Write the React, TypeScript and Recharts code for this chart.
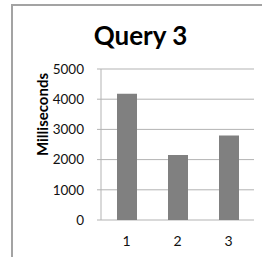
import { BarChart, Bar, XAxis, YAxis, CartesianGrid, Label } from "recharts";

const queries = [1, 2, 3];
const milliseconds = [4180, 2150, 2800];
const yTicks = [0, 1000, 2000, 3000, 4000, 5000];
const xBoundaries = [0.5, 1.5, 2.5, 3.5];

const data = queries.map((q, i) => ({ q, ms: milliseconds[i] }));

const FONT = "Lato, 'Open Sans', sans-serif";
const GRID = "#b3b3b3";

const YLabel = ({ viewBox }: any) => {
  const x = viewBox.x + 42;
  const y = viewBox.y + viewBox.height / 2 - 30;
  return (
    <text
      x={x}
      y={y}
      transform={`rotate(-90, ${x}, ${y})`}
      textAnchor="middle"
      dominantBaseline="central"
      fontFamily={FONT}
      fontWeight="bold"
      fontSize={15}
      fill="#000"
    >
      Milliseconds
    </text>
  );
};

const App = () => {
  return (
    <div
      style={{
        position: "absolute",
        left: 0,
        top: 0,
        width: 262,
        height: 257,
        overflow: "hidden",
        background: "#fff",
      }}
    >
      <div
        style={{
          position: "absolute",
          left: 11,
          top: 4,
          width: 260,
          height: 251,
          borderLeft: "2px solid #a3a3a3",
          borderTop: "2px solid #a3a3a3",
          borderBottom: "1px solid #ececec",
        }}
      />
      <div
        style={{
          position: "absolute",
          left: 40,
          width: 201,
          top: 20,
          textAlign: "center",
          fontFamily: FONT,
          fontWeight: "bold",
          fontSize: 26,
          lineHeight: "30px",
          color: "#000",
        }}
      >
        Query 3
      </div>
      <div style={{ position: "absolute", left: 0, top: 0 }}>
        <BarChart
          width={262}
          height={257}
          data={data}
          margin={{ top: 69, right: 8, bottom: 0, left: 0 }}
        >
          <CartesianGrid
            xAxisId="labels"
            vertical={false}
            stroke={GRID}
            strokeWidth={1}
          />
          <XAxis
            xAxisId="ticks"
            dataKey="q"
            type="number"
            domain={[0.5, 3.5]}
            ticks={xBoundaries}
            height={0}
            tickSize={5}
            stroke={GRID}
            tickFormatter={() => ""}
          />
          <XAxis
            xAxisId="labels"
            dataKey="q"
            type="number"
            domain={[0.5, 3.5]}
            ticks={queries}
            height={37}
            axisLine={false}
            tickLine={false}
            tickSize={6}
            tickMargin={10}
            tick={{ fill: "#111", fontSize: 14, fontFamily: FONT }}
          />
          <YAxis
            width={101}
            domain={[0, 5000]}
            ticks={yTicks}
            tickSize={4}
            tickMargin={13}
            stroke={GRID}
            tick={{ fill: "#111", fontSize: 13.5, fontFamily: FONT }}
          >
            <Label content={YLabel} />
          </YAxis>
          <Bar
            xAxisId="labels"
            dataKey="ms"
            fill="#808080"
            barSize={20}
            isAnimationActive={false}
          />
        </BarChart>
      </div>
    </div>
  );
};

export default App;
